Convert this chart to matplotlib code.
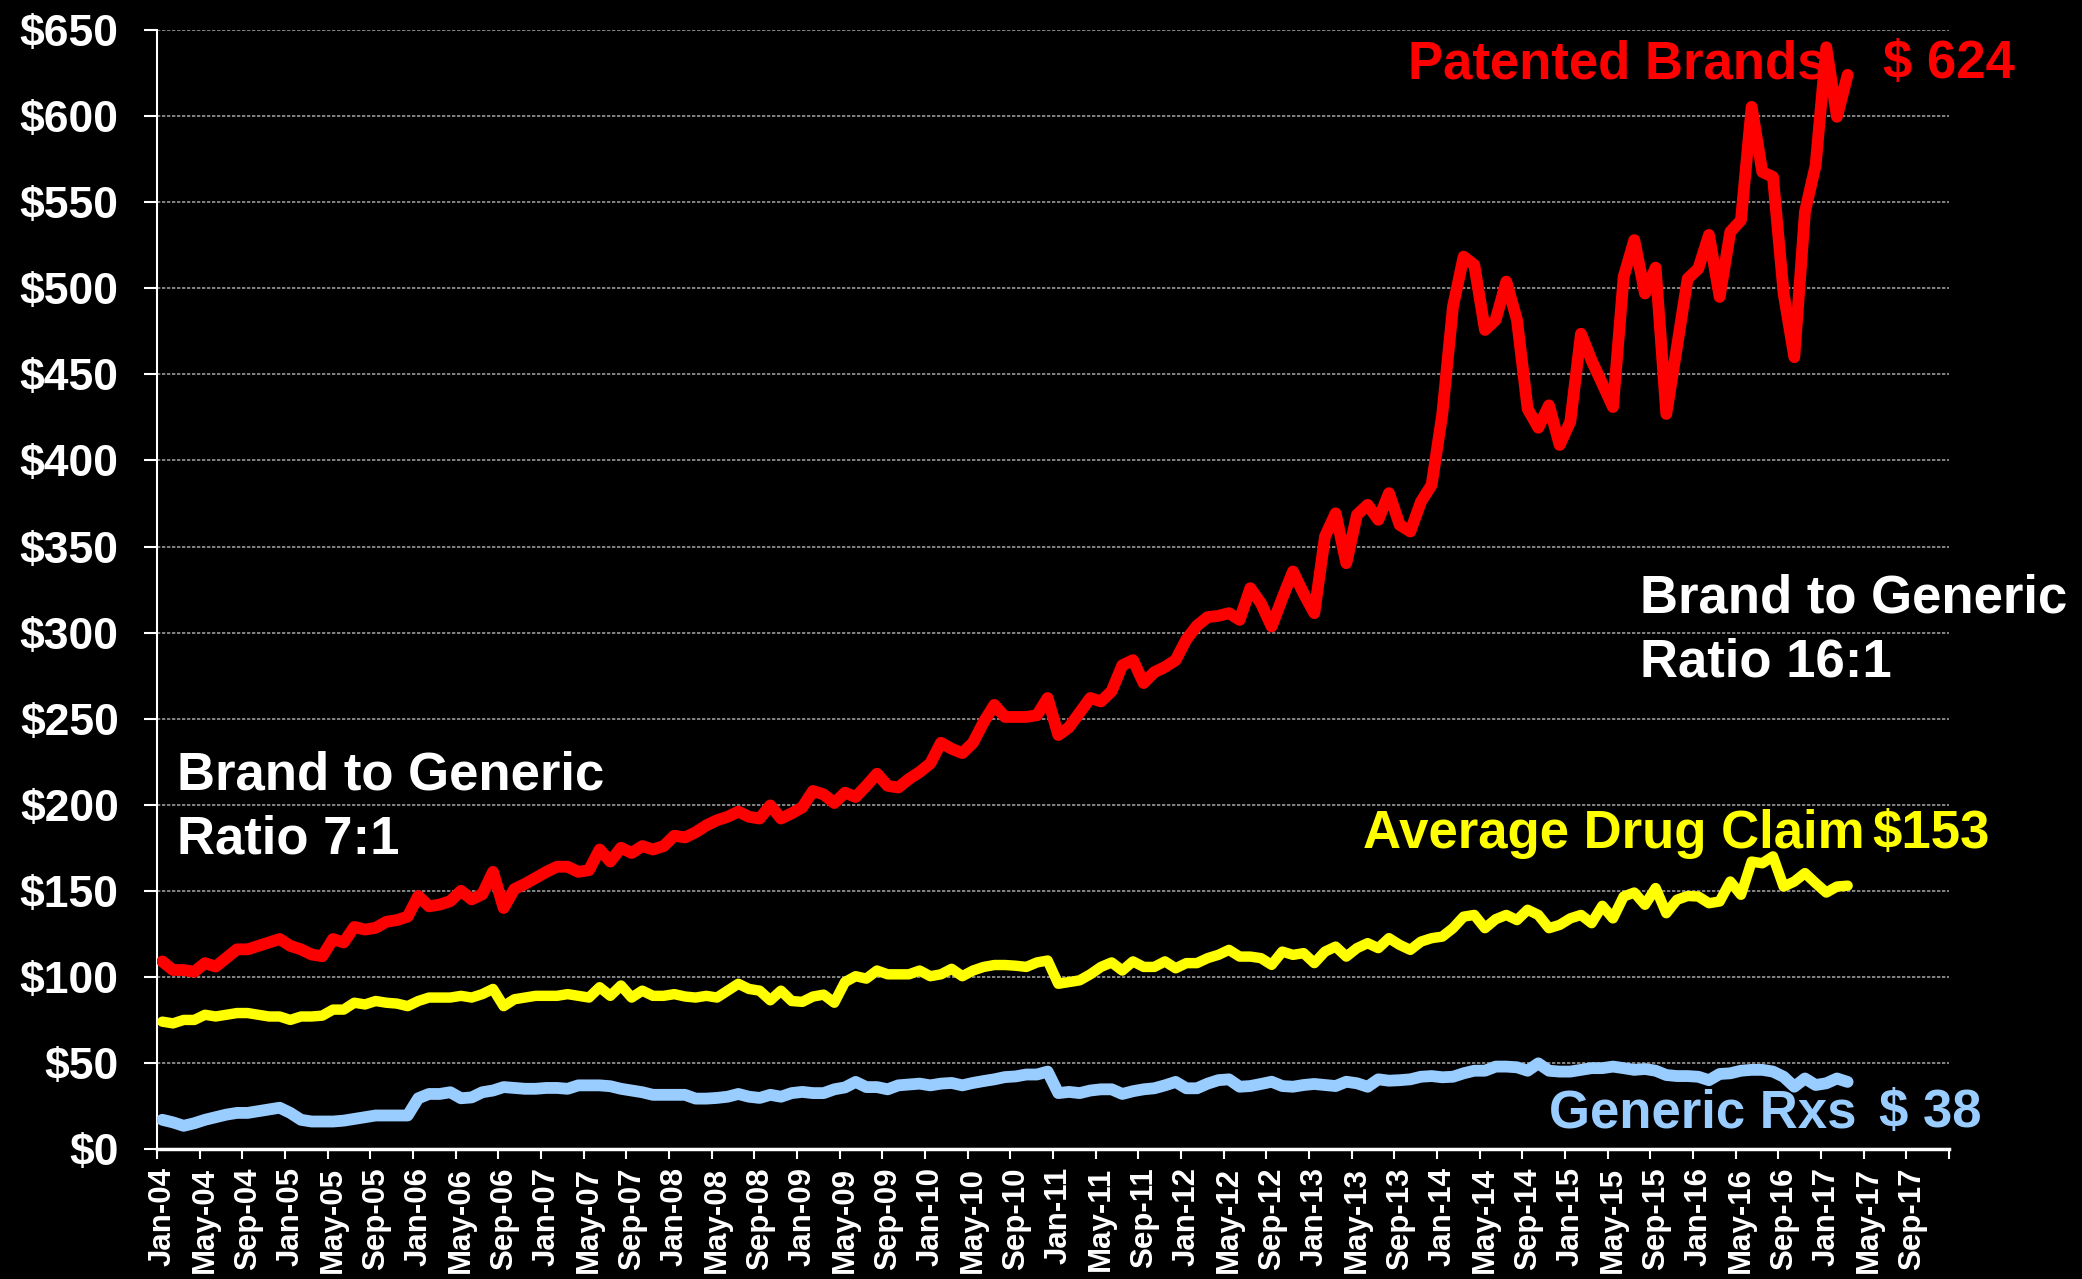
import numpy as np
import matplotlib
matplotlib.use("Agg")
import matplotlib.pyplot as plt
from matplotlib.ticker import FixedLocator, FixedFormatter

plt.rcParams['font.family'] = ['Liberation Sans', 'DejaVu Sans']
plt.rcParams['font.weight'] = 'bold'

# monthly average claim cost, Jan-04 .. Mar-17
patented_brands = [
    109, 104, 104, 103, 108, 106, 111, 116, 116, 118,
    120, 122, 118, 116, 113, 112, 122, 120, 129, 127.5,
    128.5, 132, 133, 135, 147, 141, 142, 144, 150, 145,
    148, 161, 140, 151, 154, 157.5, 161, 164, 164, 161,
    162, 174, 167, 175, 172, 176, 174, 176, 182, 181,
    184, 188, 191, 193, 196, 193, 192, 199.6, 192, 195,
    198.5, 208, 206, 201, 207, 204.5, 211, 218, 211, 210,
    215, 219, 224, 236, 232.5, 230, 236, 248, 258, 251,
    251, 251, 252, 262, 240.5, 245, 253.5, 262, 260, 266,
    281, 284, 270.7, 277, 280, 284, 296, 304, 309, 309.7,
    311.3, 307.4, 325.8, 317, 303.5, 320, 335.5, 322.7, 311.3, 355.8,
    369.3, 340.3, 368.4, 374.2, 365.5, 381, 362.6, 358.7, 376, 385.8,
    427, 489.4, 518.4, 513.5, 475.8, 481.6, 503.9, 481.6, 430, 419,
    432, 409, 422.5, 473.6, 458, 444.6, 431, 506.6, 528, 497,
    512, 427, 466, 505.6, 511.4, 531, 495, 532.8, 539.5, 605.4,
    567.6, 564.7, 497, 460, 544.4, 571.5, 640, 599.6, 624,
]

avg_drug_claim = [
    74, 73, 75, 75, 78, 77, 78, 79, 79, 78,
    77, 77, 75, 77, 77, 77.5, 81, 81, 85, 84,
    86, 85, 84.5, 83, 86, 88, 88, 88, 89, 88,
    90, 93, 83, 87, 88, 89, 89, 89, 90, 89,
    88, 94, 89, 95, 88, 92, 89, 89, 90, 88.6,
    88, 89, 88, 92, 96, 93, 92, 86.4, 92, 86,
    85.5, 88.6, 89.7, 85, 97, 100.4, 99, 103.7, 101.5, 101.5,
    101.5, 103.7, 100.4, 101.5, 104.7, 100.4, 103.7, 105.8, 106.9, 106.9,
    106.5, 105.8, 108.4, 109.5, 96, 97, 98, 101.5, 105.8, 108.4,
    103.7, 109, 105.8, 105.8, 109, 105, 108, 108, 110.9, 112.8,
    115.7, 111.8, 111.8, 110.9, 107, 114.7, 112.8, 113.8, 108, 114.7,
    117.6, 111.8, 116.7, 119.6, 116.7, 122.5, 118.6, 115.7, 120.5, 122.5,
    123.4, 128.3, 135, 136, 128.3, 133.5, 136, 133, 139, 136,
    128.3, 130.2, 134, 136, 131.2, 141.3, 134, 146.7, 149, 141.9,
    151.6, 137, 144.8, 147, 146.7, 142.8, 143.8, 155.4, 147.7, 167,
    166, 170, 152.5, 155.4, 160.3, 154.5, 149, 152.5, 153,
]

generic_rxs = [
    17, 15.5, 13.5, 15, 17, 18.5, 20, 21, 21, 22,
    23, 24, 21, 17, 16, 16, 16, 16.5, 17.5, 18.5,
    19.5, 19.5, 19.5, 19.5, 29.5, 32, 32, 33, 29.5, 30,
    33, 34, 36, 35.5, 35, 35, 35.5, 35.5, 35, 37,
    37, 37, 36.5, 35, 34, 33, 31.5, 31.5, 31.5, 31.5,
    29.3, 29.3, 29.7, 30.4, 32, 30.4, 29.7, 31.5, 30.4, 32.5,
    33.2, 32.5, 32.5, 34.7, 35.8, 39, 36, 36, 34.7, 37,
    37.5, 38, 37, 38, 38.4, 37, 38.4, 39.5, 40.5, 41.8,
    42.2, 43.3, 43.3, 45, 32.5, 33.2, 32.5, 34, 34.7, 34.7,
    32, 33.6, 34.7, 35.3, 37, 39, 35.3, 35.3, 38, 40,
    40.5, 36.2, 36.6, 37.8, 39.1, 36.6, 36.2, 37.2, 37.8, 37.2,
    36.6, 39.1, 38.2, 36.2, 40.5, 39.7, 40, 40.5, 42, 42.4,
    41.7, 42, 44, 45.5, 45.5, 47.9, 47.9, 47.5, 45.5, 49.8,
    45.5, 45, 45, 46, 47, 47, 47.9, 47, 46, 46.5,
    45.5, 43, 42.4, 42.4, 42, 40, 43.6, 44, 45.5, 46,
    46, 45, 42, 36.2, 41, 37.2, 38.2, 41, 39,
]

label_months = ['Jan', 'May', 'Sep']
label_years = ['04', '05', '06', '07', '08', '09', '10',
               '11', '12', '13', '14', '15', '16', '17']
tick_labels = [f"{m}-{y}" for y in label_years for m in label_months]
y_ticks = list(range(0, 651, 50))

RED = '#ff0000'
YELLOW = '#ffff00'
BLUE = '#99ccff'

fig = plt.figure(figsize=(20.82, 12.79), dpi=100, facecolor='black')
ax = fig.add_axes([0.0754, 0.1016, 0.8607, 0.8749])
ax.set_facecolor('black')

# Excel-style category axis: points sit in the middle of each month slot
x = np.arange(len(patented_brands)) + 0.5
ax.plot(x, generic_rxs, color=BLUE, lw=8.5, solid_joinstyle='round', solid_capstyle='round', zorder=3)
ax.plot(x, avg_drug_claim, color=YELLOW, lw=7.5, solid_joinstyle='round', solid_capstyle='round', zorder=4)
ax.plot(x, patented_brands, color=RED, lw=8.5, solid_joinstyle='round', solid_capstyle='round', zorder=5)

n_slots = 168
ax.set_xlim(0, n_slots)
ax.set_ylim(0, 650)

ax.xaxis.set_major_locator(FixedLocator(np.arange(0, n_slots + 1, 4)))
ax.xaxis.set_major_formatter(FixedFormatter([''] * 43))
ax.xaxis.set_minor_locator(FixedLocator(np.arange(len(tick_labels)) * 4 + 0.5))
ax.xaxis.set_minor_formatter(FixedFormatter(tick_labels))
ax.tick_params(axis='x', which='major', direction='out', length=7, width=1.5, color='white')
ax.tick_params(axis='x', which='minor', length=0, pad=13, labelsize=22.5,
               labelcolor='white', labelrotation=90)

ax.set_yticks(y_ticks)
ax.set_yticklabels([f"${v}" for v in y_ticks])
ax.tick_params(axis='y', direction='out', length=9.5, width=1.5, color='white',
               pad=18, labelsize=32, labelcolor='white')

ax.grid(axis='y', color='#9a9a9a', lw=1.2, ls=(0, (2, 1)))
ax.set_axisbelow(True)

for side in ['top', 'right']:
    ax.spines[side].set_visible(False)
ax.spines['left'].set_color('white')
ax.spines['left'].set_linewidth(1.5)
ax.spines['bottom'].set_color('white')
ax.spines['bottom'].set_linewidth(2.5)

fs = 38
fig.text(0.6763, 0.939, 'Patented Brands', color=RED, fontsize=fs, fontweight='bold', va='baseline')
fig.text(0.9044, 0.939, '$ 624', color=RED, fontsize=fs, fontweight='bold', va='baseline')
fig.text(0.6547, 0.337, 'Average Drug Claim', color=YELLOW, fontsize=fs, fontweight='bold', va='baseline')
fig.text(0.8991, 0.337, '$153', color=YELLOW, fontsize=fs, fontweight='bold', va='baseline')
fig.text(0.7440, 0.1188, 'Generic Rxs', color=BLUE, fontsize=fs, fontweight='bold', va='baseline')
fig.text(0.9025, 0.1188, '$ 38', color=BLUE, fontsize=fs, fontweight='bold', va='baseline')

fig.text(0.085, 0.3831, 'Brand to Generic', color='white', fontsize=fs, fontweight='bold', va='baseline')
fig.text(0.085, 0.3323, 'Ratio 7:1', color='white', fontsize=fs, fontweight='bold', va='baseline')
fig.text(0.7877, 0.5215, 'Brand to Generic', color='white', fontsize=fs, fontweight='bold', va='baseline')
fig.text(0.7877, 0.4707, 'Ratio 16:1', color='white', fontsize=fs, fontweight='bold', va='baseline')

fig.savefig('out.png', dpi=100, facecolor='black')
